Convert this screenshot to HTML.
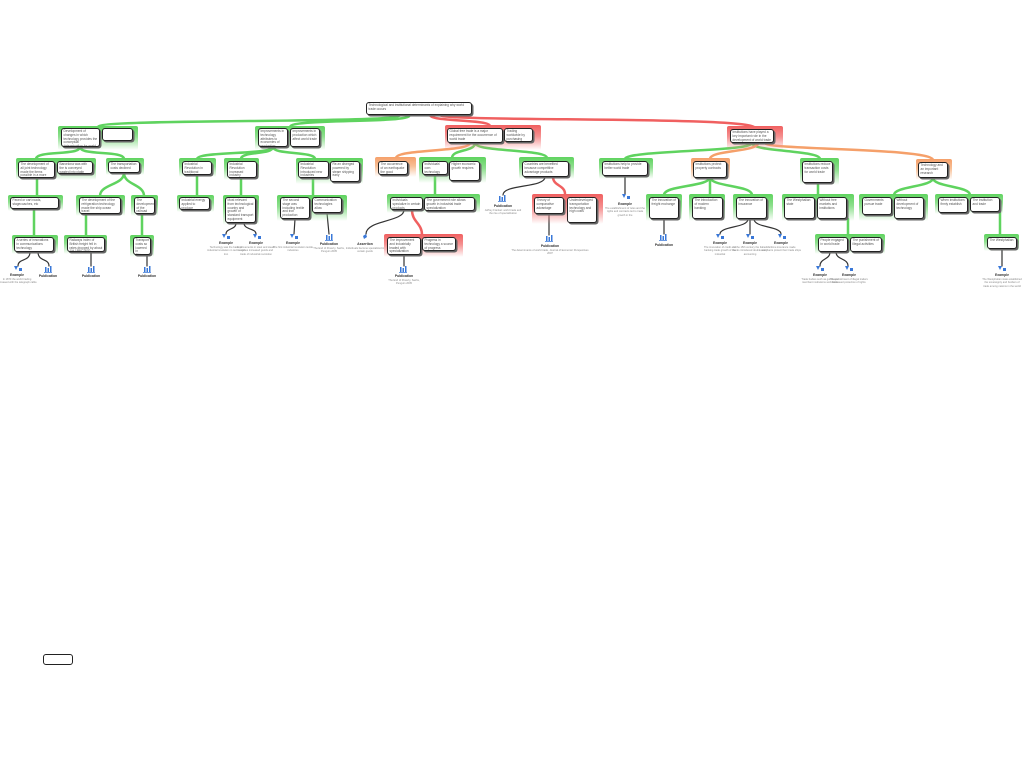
<!DOCTYPE html>
<html><head><meta charset="utf-8"><style>
html,body{margin:0;padding:0;background:#fff;width:1024px;height:768px;overflow:hidden;position:relative;font-family:"Liberation Sans",sans-serif}
.g{position:absolute;border-radius:2px}
.gg{background:linear-gradient(to bottom,#5fd35f 0%,#8fe08f 45%,rgba(255,255,255,0) 100%)}
.gr{background:linear-gradient(to bottom,#f06060 0%,#f59090 45%,rgba(255,255,255,0) 100%)}
.go{background:linear-gradient(to bottom,#f5a06a 0%,#f8bf95 45%,rgba(255,255,255,0) 100%)}
.b{position:absolute;background:#fff;border:1px solid #222;border-radius:3px;box-shadow:1.5px 1.5px 0 #666;font-size:3.2px;line-height:3.8px;color:#555;padding:1px 1.5px;overflow:hidden;box-sizing:border-box}
.ic{position:absolute;width:10px;height:8px}
.lb{position:absolute;font-size:3.4px;font-weight:bold;color:#333;width:40px;text-align:center}
.ds{position:absolute;font-size:2.6px;line-height:3.4px;color:#888;width:40px;text-align:center}
svg.c{position:absolute;left:0;top:0}
</style></head><body>
<svg class="c" width="1024" height="768" fill="none" stroke-linecap="round">
<g stroke="#5fd35f" stroke-width="2.5">
<path d="M400 115 C400 124,98 118,98 127"/>
<path d="M410 115 C410 124,290 118,290 127"/>
<path d="M80 147 C80 156,36 150,36 159"/>
<path d="M80 147 C80 156,124 150,124 159"/>
<path d="M37 178 L37 197"/>
<path d="M34 209 L34 237"/>
<path d="M124 173 C124 185,100 184,100 196"/>
<path d="M124 173 C124 185,144 184,144 196"/>
<path d="M86 214 L86 238"/>
<path d="M142 214 L142 238"/>
<path d="M273 147 C273 155,197 151,197 159"/>
<path d="M273 147 C273 155,241 151,241 159"/>
<path d="M273 147 C273 155,315 151,315 159"/>
<path d="M197 175 L197 195"/>
<path d="M241 178 L241 196"/>
<path d="M313 178 L313 195"/>
<path d="M475 143 C475 152,452 149,452 158"/>
<path d="M475 143 C475 152,547 149,547 158"/>
<path d="M435 175 L435 195"/>
<path d="M752 143 C752 152,625 150,625 159"/>
<path d="M752 143 C752 152,820 150,820 159"/>
<path d="M710 177 C710 187,664 185,664 195"/>
<path d="M710 177 L710 195"/>
<path d="M710 177 C710 187,752 185,752 195"/>
<path d="M818 183 L818 195"/>
<path d="M848 219 L848 235"/>
<path d="M933 178 C933 187,894 186,894 195"/>
<path d="M933 178 C933 187,970 186,970 195"/>
<path d="M1000 212 L1000 236"/>
</g>
<g stroke="#f06060" stroke-width="2.5">
<path d="M430 115 C430 122,490 119,490 126"/>
<path d="M440 115 C440 122,755 116,755 128"/>
<path d="M412 210 C412 222,422 223,422 235"/>
<path d="M553 177 C553 186,565 185,565 194"/>
</g>
<g stroke="#f5a06a" stroke-width="2.5">
<path d="M470 143 C470 152,396 149,396 158"/>
<path d="M758 143 C758 152,710 150,710 159"/>
<path d="M765 143 C765 150,933 148,933 160"/>
</g>
<g stroke="#333" stroke-width="1.2">
<path d="M30 252 C30 262,18 258,18 266"/><path d="M38 252 C38 262,49 258,49 266"/>
<path d="M91 252 L91 266"/><path d="M147 255 L147 266"/>
<path d="M236 223 C236 230,226 228,226 234"/><path d="M244 223 C244 230,256 228,256 234"/>
<path d="M295 219 L294 234"/><path d="M327 213 L329 234"/>
<path d="M404 210 C404 222,366 220,366 234"/><path d="M404 255 L404 266"/>
<path d="M545 177 C545 188,503 184,503 195"/><path d="M549 214 L549 235"/>
<path d="M625 176 L625 194"/><path d="M664 219 L664 234"/>
<path d="M748 219 C748 228,720 226,720 234"/><path d="M750 219 L750 234"/><path d="M754 219 C754 228,781 226,781 234"/>
<path d="M830 252 C830 260,820 258,820 266"/><path d="M836 252 C836 260,848 258,848 266"/>
<path d="M1002 249 L1002 266"/>
</g>
</svg>

<!-- root -->
<div class="b" style="left:366px;top:102px;width:106px;height:13px">Technological and institutional determinants of explaining why world trade occurs</div>

<!-- G1 -->
<div class="g gg" style="left:58px;top:126px;width:80px;height:24px"></div>
<div class="b" style="left:61px;top:128px;width:39px;height:19px">Development of changes in which technology provides the conceptual determination for world trade.</div>
<div class="b" style="left:102px;top:128px;width:31px;height:13px"></div>

<div class="g gg" style="left:16px;top:158px;width:80px;height:22px"></div>
<div class="b" style="left:18px;top:161px;width:37px;height:17px">The development of all joint technology made the items possible in a more efficient economy</div>
<div class="b" style="left:57px;top:161px;width:36px;height:13px">Barcelona was with the is conveyed wasted into platin</div>

<div class="g gg" style="left:106px;top:158px;width:38px;height:17px"></div>
<div class="b" style="left:108px;top:161px;width:32px;height:12px">The transportation costs declined</div>

<div class="g gg" style="left:8px;top:195px;width:55px;height:16px"></div>
<div class="b" style="left:10px;top:197px;width:49px;height:12px">Paved or cart roads, stagecoaches, etc</div>

<div class="g gg" style="left:76px;top:195px;width:49px;height:21px"></div>
<div class="b" style="left:79px;top:197px;width:42px;height:17px">The development of the refrigeration technology made the ship ocean travel</div>

<div class="g gg" style="left:131px;top:195px;width:27px;height:21px"></div>
<div class="b" style="left:134px;top:197px;width:21px;height:17px">The development of the railroad technology made the same</div>

<div class="g gg" style="left:12px;top:235px;width:46px;height:19px"></div>
<div class="b" style="left:14px;top:237px;width:40px;height:15px">A series of innovations in communications technology</div>

<div class="g gg" style="left:64px;top:235px;width:43px;height:19px"></div>
<div class="b" style="left:67px;top:237px;width:38px;height:15px">Railways index of British freight fell in rates dropped by about 1% 1850-1870</div>

<div class="g gg" style="left:130px;top:235px;width:24px;height:22px"></div>
<div class="b" style="left:133px;top:237px;width:18px;height:18px">Transport costs so lowered in Chicago, New York</div>

<!-- G2 -->
<div class="g gg" style="left:255px;top:126px;width:70px;height:24px"></div>
<div class="b" style="left:258px;top:128px;width:30px;height:19px">Improvements in technology attributes to economies of production</div>
<div class="b" style="left:290px;top:128px;width:30px;height:19px">Improvements in production which affect world trade</div>

<div class="g gg" style="left:179px;top:158px;width:37px;height:19px"></div>
<div class="b" style="left:182px;top:161px;width:30px;height:14px">Industrial Revolution in traditional products</div>
<div class="g gg" style="left:224px;top:158px;width:35px;height:22px"></div>
<div class="b" style="left:227px;top:161px;width:30px;height:17px">Industrial Revolution increased industry production</div>
<div class="g gg" style="left:296px;top:158px;width:67px;height:26px"></div>
<div class="b" style="left:298px;top:161px;width:31px;height:17px">Industrial Revolution introduced new industries</div>
<div class="b" style="left:330px;top:161px;width:30px;height:21px">Re-ex diverged powered by steam shipping early</div>

<div class="g gg" style="left:177px;top:195px;width:37px;height:17px"></div>
<div class="b" style="left:179px;top:197px;width:31px;height:13px">Industrial energy applied to produce</div>
<div class="g gg" style="left:223px;top:195px;width:36px;height:30px"></div>
<div class="b" style="left:225px;top:197px;width:31px;height:26px">Most relevant from technological country and growth of standard transport equipment</div>
<div class="g gg" style="left:277px;top:195px;width:70px;height:26px"></div>
<div class="b" style="left:280px;top:197px;width:30px;height:22px">The second stage was including textile and iron production</div>
<div class="b" style="left:312px;top:197px;width:30px;height:16px">Communication technologies allow</div>

<!-- G3 red -->
<div class="g gr" style="left:445px;top:125px;width:96px;height:25px"></div>
<div class="b" style="left:447px;top:128px;width:56px;height:15px">Global free trade is a major requirement for the occurrence of world trade</div>
<div class="b" style="left:504px;top:128px;width:29px;height:14px">Trading worldwide by purchasing</div>

<div class="g go" style="left:375px;top:157px;width:41px;height:20px"></div>
<div class="b" style="left:378px;top:161px;width:30px;height:14px">The occurrence of an earthquake the good</div>
<div class="g gg" style="left:419px;top:157px;width:67px;height:26px"></div>
<div class="b" style="left:422px;top:161px;width:26px;height:14px">Individuals' own technology</div>
<div class="b" style="left:449px;top:161px;width:31px;height:20px">Higher economic growth requires</div>

<div class="g gg" style="left:387px;top:194px;width:93px;height:19px"></div>
<div class="b" style="left:390px;top:197px;width:33px;height:13px">Individuals specialize in certain products</div>
<div class="b" style="left:424px;top:197px;width:51px;height:14px">The government role allows growth in industrial trade specialization</div>

<div class="g gr" style="left:384px;top:234px;width:79px;height:23px"></div>
<div class="b" style="left:387px;top:237px;width:34px;height:18px">The improvement and industrially leaded with specialization</div>
<div class="b" style="left:422px;top:237px;width:34px;height:14px">Progress in technology a source of progress</div>

<div class="g gg" style="left:519px;top:157px;width:55px;height:22px"></div>
<div class="b" style="left:522px;top:161px;width:47px;height:16px">Countries are benefited because competitive advantage products</div>

<div class="g gr" style="left:532px;top:194px;width:71px;height:30px"></div>
<div class="b" style="left:534px;top:197px;width:30px;height:17px">Theory of comparative advantage</div>
<div class="b" style="left:567px;top:197px;width:30px;height:26px">Underdeveloped transportation technology and high costs</div>

<!-- G4 red -->
<div class="g gr" style="left:727px;top:126px;width:56px;height:24px"></div>
<div class="b" style="left:730px;top:129px;width:44px;height:14px">Institutions have played a key important role in the development of world trade</div>

<div class="g gg" style="left:599px;top:158px;width:54px;height:21px"></div>
<div class="b" style="left:602px;top:161px;width:46px;height:15px">Institutions help to provide better world trade</div>

<div class="g go" style="left:691px;top:158px;width:39px;height:22px"></div>
<div class="b" style="left:693px;top:161px;width:34px;height:17px">Institutions protect property contracts</div>

<div class="g gg" style="left:800px;top:158px;width:39px;height:27px"></div>
<div class="b" style="left:802px;top:161px;width:31px;height:22px">Institutions reduce transaction costs for world trade</div>

<div class="g go" style="left:916px;top:159px;width:36px;height:21px"></div>
<div class="b" style="left:918px;top:162px;width:30px;height:16px">Technology and an important research</div>

<div class="g gg" style="left:646px;top:194px;width:36px;height:27px"></div>
<div class="b" style="left:649px;top:197px;width:30px;height:22px">The innovation of freight exchange</div>
<div class="g gg" style="left:689px;top:194px;width:36px;height:27px"></div>
<div class="b" style="left:692px;top:197px;width:31px;height:22px">The introduction of modern banking</div>
<div class="g gg" style="left:733px;top:194px;width:40px;height:27px"></div>
<div class="b" style="left:736px;top:197px;width:31px;height:22px">The innovation of insurance</div>

<div class="g gg" style="left:782px;top:194px;width:72px;height:27px"></div>
<div class="b" style="left:784px;top:197px;width:31px;height:22px">The Westphalian state</div>
<div class="b" style="left:817px;top:197px;width:30px;height:22px">Without free markets and institutions</div>

<div class="g gg" style="left:815px;top:234px;width:70px;height:20px"></div>
<div class="b" style="left:818px;top:237px;width:30px;height:15px">People engaged in world trade</div>
<div class="b" style="left:850px;top:237px;width:32px;height:15px">The punishment of illegal activities</div>

<div class="g gg" style="left:859px;top:194px;width:69px;height:27px"></div>
<div class="b" style="left:862px;top:197px;width:30px;height:18px">Governments pursue trade</div>
<div class="b" style="left:894px;top:197px;width:30px;height:22px">Without development of technology</div>

<div class="g gg" style="left:935px;top:194px;width:68px;height:20px"></div>
<div class="b" style="left:938px;top:197px;width:30px;height:16px">When institutions firmly establish</div>
<div class="b" style="left:970px;top:197px;width:30px;height:15px">The institution and trade</div>

<div class="g gg" style="left:984px;top:234px;width:35px;height:17px"></div>
<div class="b" style="left:987px;top:237px;width:30px;height:12px">The Westphalian</div>

<!-- icons -->
<svg class="c" width="1024" height="768">
<g fill="#3a78d8">
<g id="e"></g>
<path d="M14 266 l4 0 l-2 4 z M19 268 l3 0 l0 3 l-3 0 z"/>
<path d="M222 234 l4 0 l-2 4 z M227 236 l3 0 l0 3 l-3 0 z"/>
<path d="M253 234 l4 0 l-2 4 z M258 236 l3 0 l0 3 l-3 0 z"/>
<path d="M290 234 l4 0 l-2 4 z M295 236 l3 0 l0 3 l-3 0 z"/>
<path d="M622 194 l4 0 l-2 4 z M627 196 l3 0 l0 3 l-3 0 z"/>
<path d="M716 234 l4 0 l-2 4 z M721 236 l3 0 l0 3 l-3 0 z"/>
<path d="M746 234 l4 0 l-2 4 z M751 236 l3 0 l0 3 l-3 0 z"/>
<path d="M778 234 l4 0 l-2 4 z M783 236 l3 0 l0 3 l-3 0 z"/>
<path d="M816 266 l4 0 l-2 4 z M821 268 l3 0 l0 3 l-3 0 z"/>
<path d="M845 266 l4 0 l-2 4 z M850 268 l3 0 l0 3 l-3 0 z"/>
<path d="M998 266 l4 0 l-2 4 z M1003 268 l3 0 l0 3 l-3 0 z"/>
<path d="M363 236 l3 -2 l1 3 l-3 2 z"/>
<path d="M45 267 h1.5v5h-1.5z M47.5 268 h1.5v4h-1.5z M50 266 h1.5v6h-1.5z M44 272h8v0.8h-8z"/>
<path d="M88 267 h1.5v5h-1.5z M90.5 268 h1.5v4h-1.5z M93 266 h1.5v6h-1.5z M87 272h8v0.8h-8z"/>
<path d="M144 267 h1.5v5h-1.5z M146.5 268 h1.5v4h-1.5z M149 266 h1.5v6h-1.5z M143 272h8v0.8h-8z"/>
<path d="M326 235 h1.5v5h-1.5z M328.5 236 h1.5v4h-1.5z M331 234 h1.5v6h-1.5z M325 240h8v0.8h-8z"/>
<path d="M400 267 h1.5v5h-1.5z M402.5 268 h1.5v4h-1.5z M405 266 h1.5v6h-1.5z M399 272h8v0.8h-8z"/>
<path d="M499 196 h1.5v5h-1.5z M501.5 197 h1.5v4h-1.5z M504 195 h1.5v6h-1.5z M498 201h8v0.8h-8z"/>
<path d="M546 236 h1.5v5h-1.5z M548.5 237 h1.5v4h-1.5z M551 235 h1.5v6h-1.5z M545 241h8v0.8h-8z"/>
<path d="M660 235 h1.5v5h-1.5z M662.5 236 h1.5v4h-1.5z M665 234 h1.5v6h-1.5z M659 240h8v0.8h-8z"/>
</g></svg>

<div class="lb" style="left:-3px;top:273px">Example</div>
<div class="ds" style="left:-3px;top:278px">In 1870 the world trading increased with the telegraph cable</div>
<div class="lb" style="left:28px;top:274px">Publication</div>
<div class="lb" style="left:71px;top:274px">Publication</div>
<div class="lb" style="left:127px;top:274px">Publication</div>
<div class="lb" style="left:206px;top:241px">Example</div>
<div class="ds" style="left:206px;top:246px">Technology was the basis of industrial revolution in textile and iron</div>
<div class="lb" style="left:236px;top:241px">Example</div>
<div class="ds" style="left:236px;top:246px">Improvements in steel and steam engines increased goods and trade of industrial revolution</div>
<div class="lb" style="left:273px;top:241px">Example</div>
<div class="ds" style="left:273px;top:246px">The first industrial revolution textile industries</div>
<div class="lb" style="left:309px;top:242px">Publication</div>
<div class="ds" style="left:309px;top:247px">The End of Poverty, Sachs, Penguin 2005</div>
<div class="lb" style="left:345px;top:242px">Assertion</div>
<div class="ds" style="left:345px;top:247px">Individuals become specialized in certain goods</div>
<div class="lb" style="left:384px;top:274px">Publication</div>
<div class="ds" style="left:384px;top:279px">The End of Poverty, Sachs, Penguin 2005</div>
<div class="lb" style="left:483px;top:204px">Publication</div>
<div class="ds" style="left:483px;top:209px">Jeffrey Frankel: world trade and the rise of specialization</div>
<div class="lb" style="left:530px;top:244px;width:40px">Publication</div>
<div class="ds" style="left:510px;top:249px;width:80px">The determinants of world trade, Journal of Economic Perspectives 2007</div>
<div class="lb" style="left:605px;top:202px">Example</div>
<div class="ds" style="left:605px;top:207px">The establishment of rules and the rights and contracts led to trade growth in the</div>
<div class="lb" style="left:644px;top:243px">Publication</div>
<div class="lb" style="left:700px;top:241px">Example</div>
<div class="ds" style="left:700px;top:246px">The innovation of credit and banking trade growth of the industrial</div>
<div class="lb" style="left:730px;top:241px">Example</div>
<div class="ds" style="left:730px;top:246px">In the 15th century the Italian banks introduced double entry accounting</div>
<div class="lb" style="left:761px;top:241px">Example</div>
<div class="ds" style="left:761px;top:246px">Maritime insurance made merchants protect their trade ships</div>
<div class="lb" style="left:800px;top:273px">Example</div>
<div class="ds" style="left:800px;top:278px">Trade bodies such as guilds and merchant institutions worldwide</div>
<div class="lb" style="left:829px;top:273px">Example</div>
<div class="ds" style="left:829px;top:278px">The punishment of illegal traders increased protection of rights</div>
<div class="lb" style="left:982px;top:273px">Example</div>
<div class="ds" style="left:982px;top:278px">The Westphalian state established the sovereignty and borders of trade among nations in the world</div>

<div style="position:absolute;left:43px;top:654px;width:30px;height:11px;border:1px solid #222;border-radius:3px;box-sizing:border-box;background:#fff"></div>
</body></html>
